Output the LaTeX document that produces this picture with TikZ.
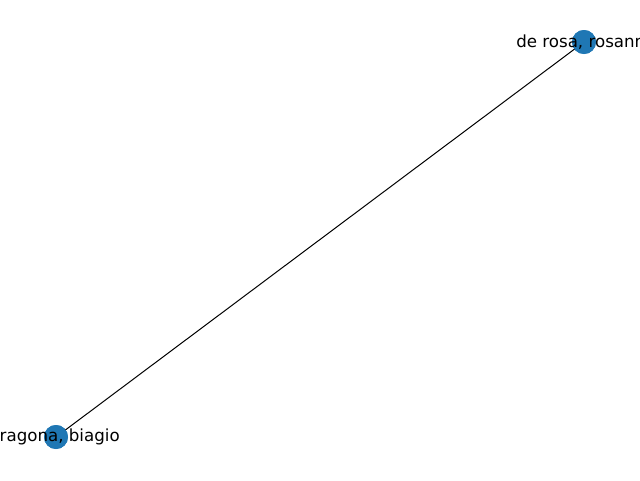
\documentclass[tikz,border=0pt]{standalone}
\usepackage{fontspec}
\setmainfont{DejaVu Sans}
\definecolor{nxblue}{HTML}{1F77B4}
\tikzset{
  vtx/.style={circle,fill=nxblue,draw=none,minimum size=18pt,inner sep=0pt},
  lbl/.style={font=\fontsize{12.5pt}{15pt}\selectfont,inner sep=0pt,text=black},
  edge/.style={draw=black,line width=0.75pt}
}
\begin{document}
\begin{tikzpicture}[x=0.75pt,y=0.75pt]
\useasboundingbox (0,0) rectangle (640,480);
\clip (0,0) rectangle (640,480);
\node[vtx] (a) at (584,438) {};
\node[vtx] (b) at (56,43) {};
\begin{scope}[on background layer/.try]
\end{scope}
\draw[edge] (a.center) -- (b.center);
\node[vtx] at (a.center) {};
\node[vtx] at (b.center) {};
\node[lbl,anchor=west] (la) at (516,438) {de rosa, rosann};
\node[lbl,anchor=east] (lb) at (120,43) {ragona, biagio};
\end{tikzpicture}
\end{document}
